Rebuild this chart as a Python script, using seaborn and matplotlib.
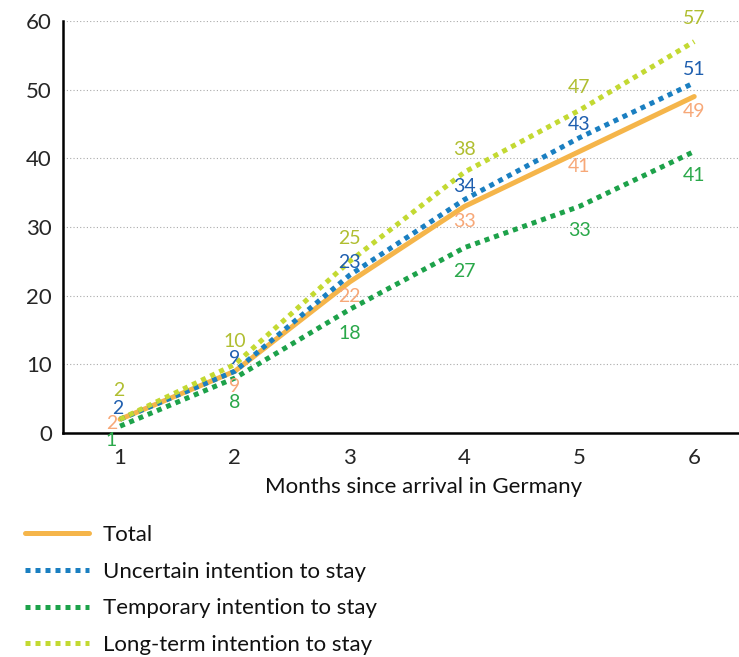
import matplotlib
matplotlib.use("Agg")
import matplotlib.pyplot as plt
import seaborn as sns
import pandas as pd

months = [1, 2, 3, 4, 5, 6]
series_names = ["Total", "Uncertain intention to stay", "Temporary intention to stay", "Long-term intention to stay"]
total = [2, 9, 22, 33, 41, 49]
uncertain = [2, 9, 23, 34, 43, 51]
temporary = [1, 8, 18, 27, 33, 41]
longterm = [2, 10, 25, 38, 47, 57]
y_ticks = [0, 10, 20, 30, 40, 50, 60]
x_label = "Months since arrival in Germany"

values = {series_names[0]: total, series_names[1]: uncertain,
          series_names[2]: temporary, series_names[3]: longterm}

line_colors = {series_names[0]: "#F5B54A", series_names[1]: "#1A7FC1",
               series_names[2]: "#1DA24A", series_names[3]: "#C3D932"}
label_colors = {series_names[0]: "#F7A878", series_names[1]: "#1F5FAF",
                series_names[2]: "#2AA84A", series_names[3]: "#B0BE30"}
# label offsets in pixels (dx, dy) ; general and for first month
offsets = {series_names[0]: (0, -15), series_names[1]: (0, 13),
           series_names[2]: (0, -24), series_names[3]: (0, 23)}
offsets_first = {series_names[0]: (-8, -4), series_names[1]: (-2, 11),
                 series_names[2]: (-9, -14), series_names[3]: (-1, 29)}

rows = []
for name in series_names:
    for m, v in zip(months, values[name]):
        rows.append({"month": m, "value": v, "series": name})
df = pd.DataFrame(rows)

sns.set_style("white")
plt.rcParams["font.family"] = ["Lato", "DejaVu Sans"]

fig = plt.figure(figsize=(7.39, 6.57), dpi=100)
ax = fig.add_axes([63 / 739, 1 - 433 / 657, 1 - 63 / 739, (433 - 21) / 657])

dashes = {series_names[0]: "", series_names[1]: (1, 1),
          series_names[2]: (1, 1), series_names[3]: (1, 1)}
sns.lineplot(data=df, x="month", y="value", hue="series", style="series",
             hue_order=series_names, style_order=series_names,
             palette=line_colors, dashes=dashes, linewidth=3.6, ax=ax,
             legend=False)
for ln in ax.get_lines():
    ln.set_solid_capstyle("round")
    ln.set_dash_capstyle("butt")

for name in series_names:
    for m, v in zip(months, values[name]):
        dx, dy = offsets_first[name] if m == months[0] else offsets[name]
        ax.annotate(str(v), (m, v), xytext=(dx * 0.72, dy * 0.72),
                    textcoords="offset points", ha="center", va="center",
                    fontsize=14, color=label_colors[name])

ax.set_xlim(0.503, 6.39)
ax.set_ylim(0, 60)
ax.set_yticks(y_ticks)
ax.set_xticks(months)
ax.tick_params(axis="both", labelsize=16, length=5, width=1.5, color="black", pad=3)
ax.tick_params(axis="x", pad=6)
ax.yaxis.grid(True, linestyle=(0, (1, 2)), color="#AAAAAA", linewidth=0.8)
ax.set_axisbelow(True)
for s in ["top", "right"]:
    ax.spines[s].set_visible(False)
for s in ["left", "bottom"]:
    ax.spines[s].set_color("black")
    ax.spines[s].set_linewidth(1.8)
ax.set_xlabel(x_label, fontsize=16, color="#111111")
ax.xaxis.set_label_coords((424 - 63) / 676, -0.108)
ax.set_ylabel("")

handles = ax.get_lines()[:4]
leg = fig.legend(handles, series_names, loc="upper left",
                 bbox_to_anchor=(5 / 739, 1 - 505 / 657), frameon=False,
                 fontsize=16, handlelength=2.9, labelspacing=0.75,
                 handletextpad=0.6)
for t in leg.get_texts():
    t.set_color("#111111")

fig.savefig("out.png", dpi=100)
